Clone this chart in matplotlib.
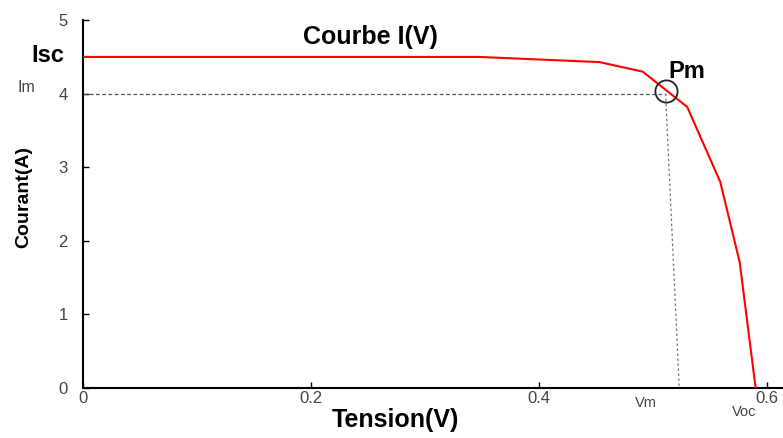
import matplotlib
matplotlib.use('Agg')
import matplotlib.pyplot as plt

# courbe I(V) d'une cellule PV
tension = [0.0, 0.348, 0.453, 0.491, 0.530, 0.559, 0.576, 0.590]
courant = [4.5, 4.5, 4.43, 4.3, 3.82, 2.8, 1.71, 0.0]
x_ticks = [0, 0.2, 0.4, 0.6]
x_labels = ['0', '0.2', '0.4', '0.6']
y_ticks = [0, 1, 2, 3, 4, 5]
isc = 4.5
im = 4.0
vm_top = 0.511
vm = 0.523
voc = 0.590

plt.rcParams['font.family'] = ['Liberation Sans', 'DejaVu Sans']

fig = plt.figure(figsize=(7.83, 4.38), dpi=100)
ax = fig.add_axes([0.106, 0.114, 0.894, 0.840])

ax.plot(tension, courant, color='red', lw=1.5, zorder=3)

# lignes en pointillés vers Im et Vm
ax.plot([0, vm_top], [im, im], color='#555555', lw=0.9, ls=(0, (3, 2)))
ax.plot([vm_top, vm], [im, 0], color='#777777', lw=0.9, ls=(0, (2, 2)))
ax.plot([vm_top], [im + 0.04], marker='o', ms=16, mfc='none', mec='#222222', mew=1.3, zorder=4)

ax.set_xlim(0, 0.614)
ax.set_ylim(0, 5)
ax.set_xticks(x_ticks)
ax.set_xticklabels(x_labels)
ax.set_yticks(y_ticks)
ax.tick_params(direction='in', length=4, width=1, labelsize=12, labelcolor='#444444')
ax.tick_params(axis='y', pad=11)
ax.tick_params(axis='x', pad=2)

ax.spines['top'].set_visible(False)
ax.spines['right'].set_visible(False)
ax.spines['left'].set_linewidth(1.5)
ax.spines['bottom'].set_linewidth(1.5)

ax.set_xlabel('Tension(V)', fontsize=18, fontweight='bold')
ax.xaxis.set_label_coords(0.447, -0.055)
ax.set_ylabel('Courant(A)', fontsize=14, fontweight='bold')
ax.yaxis.set_label_coords(-0.073, 0.52)
ax.text(0.252, 4.77, 'Courbe I(V)', fontsize=18, fontweight='bold', ha='center', va='center')

ax.text(-0.031, isc + 0.02, 'Isc', fontsize=17, fontweight='bold', ha='center', va='center', clip_on=False)
ax.text(-0.05, im + 0.09, 'Im', fontsize=11.5, color='#444444', ha='center', va='center', clip_on=False)
ax.text(0.530, 4.3, 'Pm', fontsize=17, fontweight='bold', ha='center', va='center')
ax.text(0.494, -0.2, 'Vm', fontsize=10.5, color='#444444', ha='center', va='center', clip_on=False)
ax.text(0.580, -0.33, 'Voc', fontsize=10.5, color='#444444', ha='center', va='center', clip_on=False)

fig.savefig('out.png', dpi=100)
